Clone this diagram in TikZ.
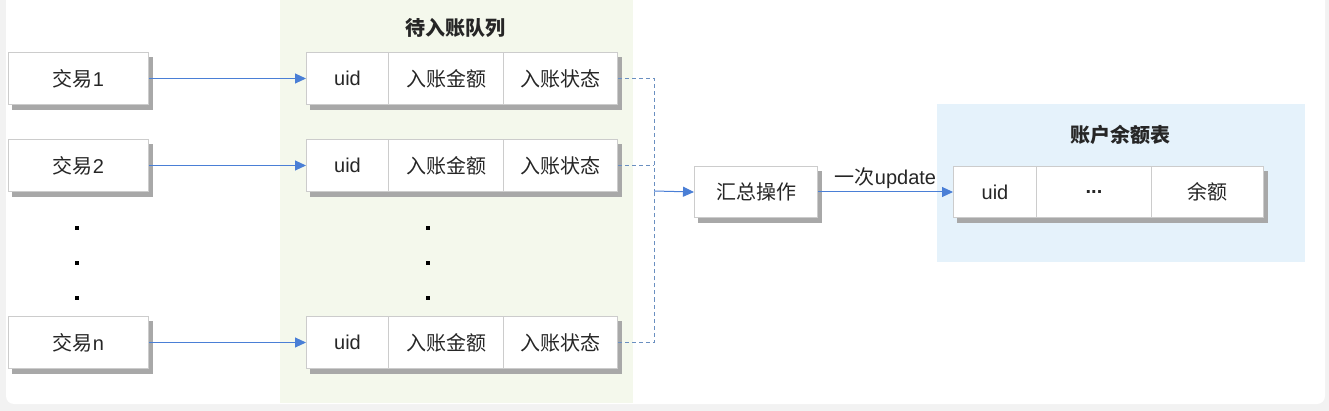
\documentclass[tikz,border=0pt]{standalone}
\usepackage{fontspec}
\setmainfont{Liberation Sans}
\newfontfamily\cjk{Noto Sans CJK SC}
\usetikzlibrary{arrows.meta}
\pgfdeclarelayer{bglayer}
\pgfdeclarelayer{shadowlayer}
\pgfsetlayers{bglayer,shadowlayer,main}
\definecolor{pagebg}{HTML}{F2F2F2}
\definecolor{greenbg}{HTML}{F4F8EC}
\definecolor{bluebg}{HTML}{E5F2FB}
\definecolor{boxline}{HTML}{CCCCCC}
\definecolor{shadowc}{HTML}{A8A8A8}
\definecolor{arrowblue}{HTML}{4A7FD6}
\definecolor{dashblue}{HTML}{6A8FC0}
\definecolor{txt}{HTML}{262626}
\tikzset{
  x=1pt, y=-1pt,
  cell/.style={draw=boxline, line width=1pt, fill=white, minimum height=52pt, inner sep=0pt,
    anchor=north west, font=\fontsize{20}{24}\selectfont, text=txt},
  flow/.style={draw=arrowblue, line width=1pt, -{Triangle[length=11pt,width=10pt]}},
  dashconn/.style={draw=dashblue, line width=1pt, dash pattern=on 4pt off 3pt},
  title/.style={font=\bfseries\fontsize{20}{24}\selectfont, text=txt},
  dotn/.style={rectangle, fill=black, inner sep=0pt, minimum size=3.5pt}
}
\begin{document}
\begin{tikzpicture}
\useasboundingbox (0,0) rectangle (1329,411);
\begin{pgfonlayer}{bglayer}
\fill[pagebg] (0,0) rectangle (1329,411);
\fill[white, rounded corners=8pt] (6,-20) rectangle (1325,404);
\fill[greenbg] (280,0) rectangle (633,403);
\fill[bluebg] (937,104) rectangle (1305,262);
\end{pgfonlayer}
\node[title] (qtitle) at (455,28) {\cjk 待入账队列};
\node[title] (btitle) at (1120,135) {\cjk 账户余额表};
% transactions
\node[cell, minimum width=140pt] (t1) at (8,52) {{\cjk 交易}1};
\node[cell, minimum width=140pt] (t2) at (8,139) {{\cjk 交易}2};
\node[cell, minimum width=140pt] (tn) at (8,316) {{\cjk 交易}n};
% queue rows
\foreach \r/\yy in {1/52,2/139,3/316}{
  \node[cell, minimum width=82pt] (u\r) at (306,\yy) {uid};
  \node[cell, minimum width=115pt] (a\r) at (388,\yy) {\cjk 入账金额};
  \node[cell, minimum width=114pt] (s\r) at (503,\yy) {\cjk 入账状态};
}
% dots
\foreach \yy [count=\i] in {228,263,298}{
  \node[dotn] (ld\i) at (77,\yy) {};
  \node[dotn] (rd\i) at (428,\yy) {};
}
% summary
\node[cell, minimum width=123pt, minimum height=51pt] (sum) at (694,166) {\cjk 汇总操作};
% balance table
\node[cell, minimum width=83pt, minimum height=51pt] (bu) at (953,166) {uid};
\node[cell, minimum width=115pt, minimum height=51pt, font=\bfseries\fontsize{20}{24}\selectfont] (bd) at (1036,166) {...};
\node[cell, minimum width=112pt, minimum height=51pt] (bb) at (1151,166) {\cjk 余额};
% shadows
\begin{pgfonlayer}{shadowlayer}
\foreach \n in {t1,t2,tn,u1,a1,s1,u2,a2,s2,u3,a3,s3,sum,bu,bd,bb}{
  \fill[shadowc] ([shift={(3.5,5)}]\n.north west) rectangle ([shift={(3.5,5)}]\n.south east);
}
\end{pgfonlayer}
% connectors
\draw[flow] (t1.east) -- (u1.west);
\draw[flow] (t2.east) -- (u2.west);
\draw[flow] (tn.east) -- (u3.west);
\coordinate (jx) at (654,191);
\draw[dashconn] (s1.east) -| (jx);
\draw[dashconn] (s3.east) -| (jx);
\draw[dashconn] (s2.east) -- (s2.east -| jx);
\draw[flow] (jx) -- (sum.west);
\draw[flow] (sum.east) -- node[above=0pt, font=\fontsize{20}{24}\selectfont, text=txt] (lbl) {{\cjk 一次}update} (bu.west);
\end{tikzpicture}
\end{document}
